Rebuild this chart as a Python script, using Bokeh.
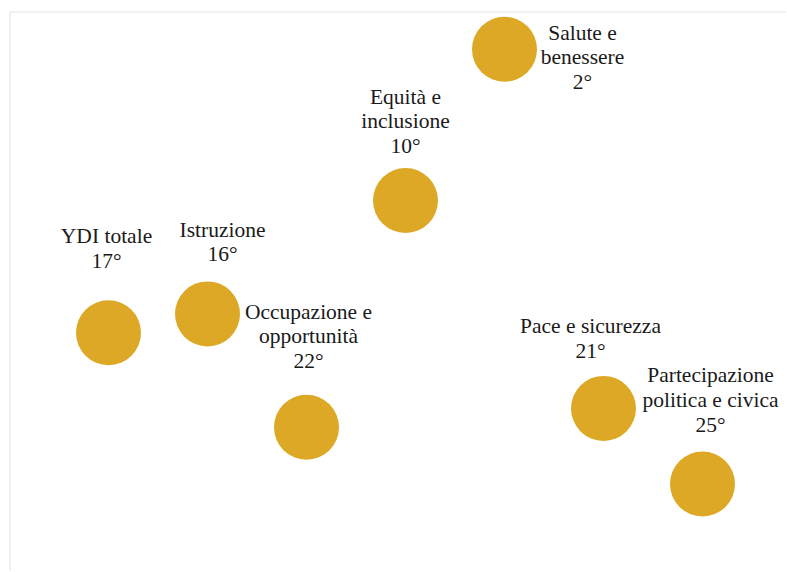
from bokeh.plotting import figure
from bokeh.models import ColumnDataSource, Range1d, Span
from bokeh.core.properties import value
from bokeh.embed import file_html
from bokeh.resources import INLINE

# --- data ---
categories = ["YDI totale", "Istruzione", "Occupazione e opportunità",
              "Equità e inclusione", "Salute e benessere", "Pace e sicurezza",
              "Partecipazione politica e civica"]
label_lines = ["YDI totale", "Istruzione", "Occupazione e\nopportunità",
               "Equità e\ninclusione", "Salute e\nbenessere", "Pace e sicurezza",
               "Partecipazione\npolitica e civica"]
ranks = [17, 16, 22, 10, 2, 21, 25]

# --- label placement (pixels, relative to each bubble) ---
label_dx = [-2, 15, 2, 0, 78, -13, 8]
label_dy = [-84, -72, -91, -79, 8, -70, -84]

xs = list(range(len(categories)))
labels = [f"{l}\n{r}°" for l, r in zip(label_lines, ranks)]

src = ColumnDataSource(dict(x=xs, y=ranks, label=labels, dx=label_dx, dy=label_dy))

W, H = 786, 571
LB, TB = 9, 11
p = figure(width=W, height=H, output_backend="svg", toolbar_location=None,
           x_range=Range1d(-1, -1 + (W - LB) / 99.0),
           y_range=Range1d((H - TB) / 18.9, 0),
           min_border_left=LB, min_border_top=TB, min_border_right=0, min_border_bottom=0)
p.axis.visible = False
p.grid.visible = False
p.outline_line_color = None
p.background_fill_color = "white"
p.border_fill_color = "white"

p.add_layout(Span(location=-1, dimension="height", line_color="#e3e3e3", line_width=2))
p.add_layout(Span(location=0, dimension="width", line_color="#e3e3e3", line_width=2))

p.scatter("x", "y", source=src, size=65, fill_color="#DDA826", line_color=None)

p.text("x", "y", text="label", source=src, x_offset="dx", y_offset="dy",
       text_align="center", text_baseline="middle",
       text_font=value("Liberation Serif"), text_font_size="21.5px",
       text_line_height=1.03, text_color="#1a1a1a")

open("out.html", "w").write(file_html(p, INLINE))
